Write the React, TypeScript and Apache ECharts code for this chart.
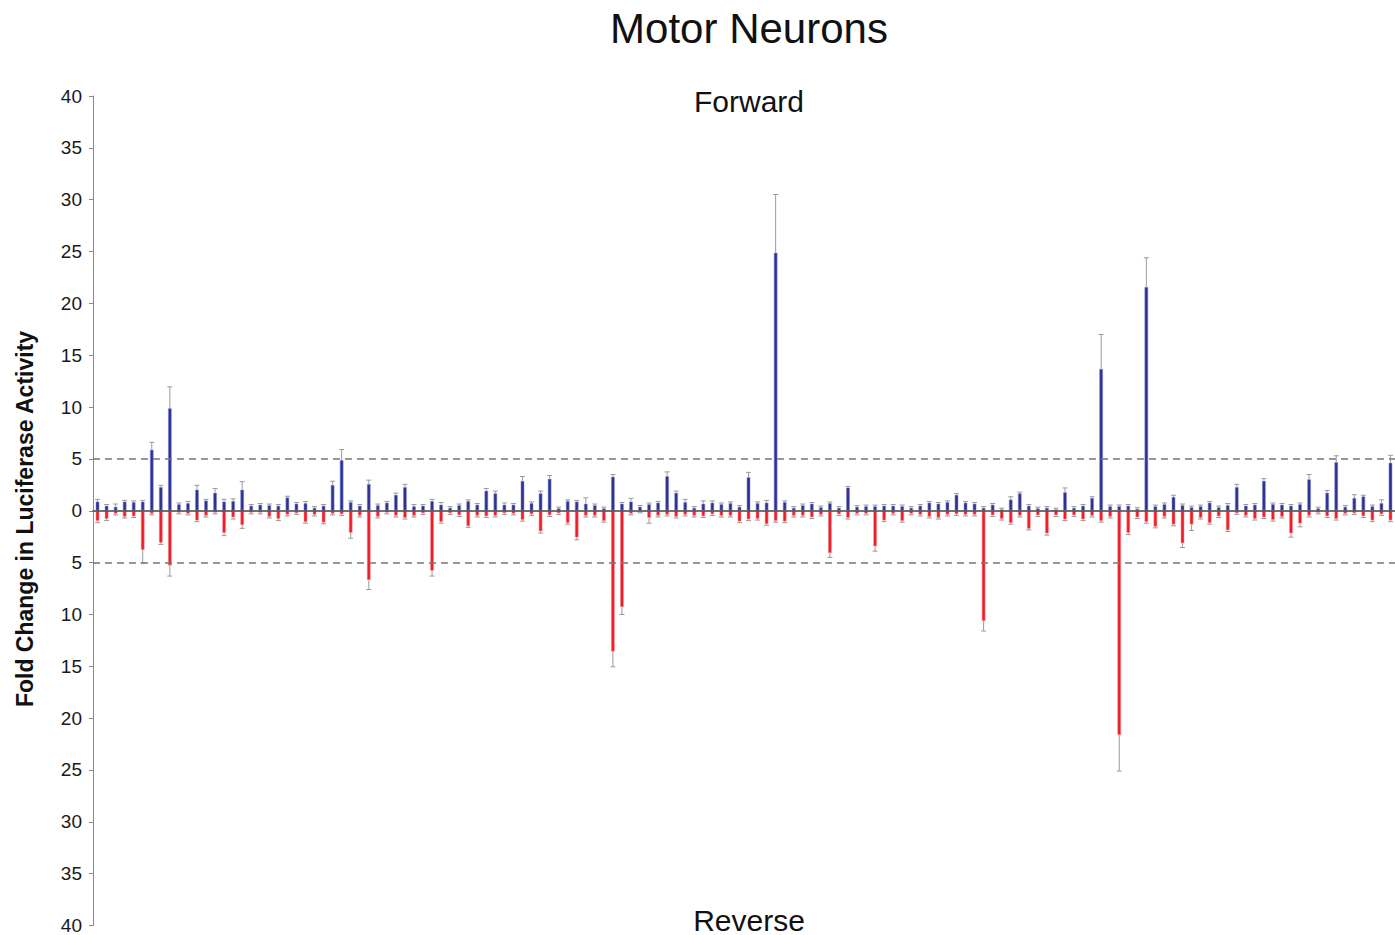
import React, { useEffect, useRef } from "react";
import * as echarts from "echarts";

// Forward (positive) fold change per construct
const fwd = [
  0.9, 0.5, 0.4, 0.9, 0.85, 0.9, 5.9, 2.3, 9.9, 0.65,
  0.75, 2.05, 1.0, 1.75, 0.9, 0.95, 2.05, 0.5, 0.6, 0.55,
  0.5, 1.3, 0.7, 0.75, 0.3, 0.5, 2.5, 4.9, 0.85, 0.5,
  2.6, 0.55, 0.8, 1.55, 2.3, 0.45, 0.5, 0.95, 0.6, 0.3,
  0.55, 0.95, 0.6, 1.95, 1.7, 0.6, 0.6, 2.9, 0.75, 1.7,
  3.1, 0.25, 0.95, 0.9, 0.7, 0.55, 0.25, 3.3, 0.7, 0.9,
  0.4, 0.65, 0.8, 3.35, 1.75, 0.85, 0.3, 0.7, 0.8, 0.65,
  0.75, 0.4, 3.25, 0.75, 0.8, 24.9, 0.85, 0.3, 0.55, 0.7,
  0.35, 0.75, 0.3, 2.25, 0.4, 0.45, 0.45, 0.5, 0.5, 0.45,
  0.3, 0.5, 0.8, 0.7, 0.85, 1.55, 0.8, 0.7, 0.3, 0.6,
  0.15, 1.1, 1.7, 0.5, 0.25, 0.3, 0.15, 1.8, 0.3, 0.5,
  1.25, 13.7, 0.45, 0.45, 0.5, 0.2, 21.6, 0.45, 0.65, 1.35,
  0.55, 0.35, 0.45, 0.8, 0.35, 0.55, 2.3, 0.5, 0.6, 2.9,
  0.65, 0.6, 0.5, 0.65, 3.05, 0.25, 1.75, 4.7, 0.4, 1.25,
  1.4, 0.45, 0.75, 4.65,
];

// Reverse fold change magnitudes (drawn downward)
const rev = [
  1.0, 0.8, 0.3, 0.6, 0.55, 3.8, 0.3, 3.1, 5.3, 0.2,
  0.3, 0.95, 0.5, 0.2, 2.15, 0.65, 1.4, 0.2, 0.2, 0.6,
  0.8, 0.4, 0.25, 1.1, 0.4, 1.15, 0.3, 0.35, 2.15, 0.5,
  6.7, 0.6, 0.2, 0.5, 0.7, 0.5, 0.25, 5.8, 1.1, 0.25,
  0.45, 1.5, 0.5, 0.55, 0.5, 0.25, 0.3, 0.9, 0.35, 2.0,
  0.45, 0.25, 1.2, 2.6, 0.5, 0.5, 1.0, 13.6, 9.3, 0.3,
  0.1, 0.7, 0.5, 0.4, 0.6, 0.4, 0.5, 0.55, 0.35, 0.5,
  0.5, 1.05, 0.85, 0.8, 1.3, 1.0, 1.05, 0.5, 0.5, 0.65,
  0.4, 4.1, 0.35, 0.7, 0.3, 0.3, 3.45, 0.95, 0.3, 1.0,
  0.3, 0.4, 0.6, 0.7, 0.4, 0.35, 0.4, 0.4, 10.65, 0.45,
  0.8, 1.2, 0.5, 1.75, 0.45, 2.2, 0.45, 0.85, 0.45, 0.85,
  0.5, 1.0, 0.6, 21.65, 2.15, 0.65, 1.1, 1.55, 0.6, 1.35,
  3.15, 1.35, 0.7, 1.2, 0.55, 1.9, 0.25, 0.5, 0.8, 0.65,
  0.9, 0.6, 2.2, 1.25, 0.5, 0.2, 0.55, 0.8, 0.3, 0.25,
  0.55, 0.95, 0.35, 0.95,
];

const fwdErr = [
  0.2, 0.1, 0.25, 0.1, 0.1, 0.1, 0.7, 0.15, 2.05, 0.1,
  0.15, 0.4, 0.1, 0.4, 0.2, 0.2, 0.75, 0.1, 0.1, 0.1,
  0.1, 0.1, 0.1, 0.15, 0.1, 0.1, 0.35, 1.0, 0.1, 0.1,
  0.35, 0.1, 0.1, 0.15, 0.25, 0.15, 0.1, 0.15, 0.2, 0.1,
  0.1, 0.1, 0.1, 0.2, 0.2, 0.15, 0.1, 0.4, 0.1, 0.2,
  0.3, 0.1, 0.1, 0.1, 0.55, 0.1, 0.1, 0.2, 0.1, 0.3,
  0.1, 0.1, 0.1, 0.4, 0.15, 0.25, 0.1, 0.25, 0.15, 0.1,
  0.1, 0.1, 0.45, 0.1, 0.2, 5.6, 0.1, 0.1, 0.1, 0.1,
  0.1, 0.1, 0.1, 0.1, 0.1, 0.1, 0.1, 0.1, 0.1, 0.1,
  0.1, 0.1, 0.1, 0.1, 0.1, 0.1, 0.1, 0.1, 0.1, 0.1,
  0.1, 0.25, 0.1, 0.1, 0.1, 0.1, 0.1, 0.4, 0.1, 0.1,
  0.1, 3.3, 0.1, 0.1, 0.1, 0.1, 2.8, 0.1, 0.1, 0.15,
  0.1, 0.1, 0.1, 0.1, 0.1, 0.15, 0.25, 0.1, 0.1, 0.2,
  0.1, 0.1, 0.1, 0.1, 0.45, 0.1, 0.2, 0.6, 0.1, 0.3,
  0.1, 0.1, 0.3, 0.7,
];

const revErr = [
  0.15, 0.15, 0.1, 0.1, 0.1, 1.25, 0.1, 0.15, 1.0, 0.1,
  0.1, 0.1, 0.1, 0.1, 0.25, 0.15, 0.3, 0.1, 0.1, 0.1,
  0.15, 0.1, 0.1, 0.1, 0.1, 0.1, 0.1, 0.1, 0.5, 0.1,
  0.9, 0.1, 0.1, 0.1, 0.1, 0.1, 0.1, 0.5, 0.1, 0.1,
  0.1, 0.1, 0.1, 0.1, 0.1, 0.1, 0.1, 0.1, 0.1, 0.15,
  0.1, 0.1, 0.1, 0.2, 0.1, 0.1, 0.1, 1.45, 0.7, 0.1,
  0.1, 0.5, 0.1, 0.1, 0.1, 0.1, 0.1, 0.1, 0.1, 0.1,
  0.1, 0.1, 0.1, 0.1, 0.1, 0.1, 0.1, 0.1, 0.1, 0.1,
  0.1, 0.4, 0.1, 0.1, 0.1, 0.1, 0.45, 0.1, 0.1, 0.1,
  0.1, 0.1, 0.1, 0.1, 0.1, 0.1, 0.1, 0.1, 0.95, 0.1,
  0.1, 0.1, 0.1, 0.1, 0.1, 0.15, 0.1, 0.1, 0.1, 0.1,
  0.1, 0.1, 0.1, 3.45, 0.15, 0.1, 0.1, 0.1, 0.1, 0.1,
  0.4, 0.55, 0.1, 0.1, 0.1, 0.1, 0.1, 0.1, 0.1, 0.1,
  0.1, 0.1, 0.35, 0.3, 0.1, 0.1, 0.1, 0.1, 0.1, 0.1,
  0.1, 0.1, 0.1, 0.1,
];

const categories = fwd.map((_, i) => String(i + 1));

const FONT = "'Liberation Sans', Arial, sans-serif";

export default function App() {
  const ref = useRef<HTMLDivElement>(null);

  useEffect(() => {
    document.body.style.margin = "0";
    if (!ref.current) return;
    const chart = echarts.init(ref.current, null, { renderer: "svg" });

    const errData = [
      ...fwd.map((v, i) => [i, v, fwdErr[i]]),
      ...rev.map((v, i) => [i, -v, -revErr[i]]),
    ];

    const renderErr = (params: any, api: any) => {
      const x = api.value(0);
      const v = api.value(1);
      const e = api.value(2);
      const p0 = api.coord([x, v]);
      const p1 = api.coord([x, v + e]);
      const style = { stroke: "#9a9a9a", lineWidth: 1 };
      return {
        type: "group",
        children: [
          { type: "line", shape: { x1: p0[0], y1: p0[1], x2: p1[0], y2: p1[1] }, style },
          { type: "line", shape: { x1: p1[0] - 2.5, y1: p1[1], x2: p1[0] + 2.5, y2: p1[1] }, style },
        ],
      };
    };

    chart.setOption({
      animation: false,
      backgroundColor: "#ffffff",
      grid: { left: 93, top: 96, width: 1302, height: 831 },
      xAxis: {
        type: "category",
        data: categories,
        z: 10,
        axisLine: { show: true, onZero: true, lineStyle: { color: "#444", width: 1.5 } },
        axisTick: { show: false },
        axisLabel: { show: false },
        splitLine: { show: false },
      },
      yAxis: {
        type: "value",
        min: -40,
        max: 40,
        interval: 5,
        axisLine: { show: true, lineStyle: { color: "#888", width: 1 } },
        axisTick: { show: true, length: 4, lineStyle: { color: "#888" } },
        splitLine: { show: false },
        axisLabel: {
          color: "#1a1a1a",
          fontSize: 19,
          fontFamily: FONT,
          margin: 11,
          formatter: (v: number) => String(Math.abs(v)),
        },
      },
      graphic: [
        {
          type: "text",
          x: 749,
          y: 28,
          style: { text: "Motor Neurons", fontSize: 42, fontFamily: FONT, fill: "#111", textAlign: "center", textVerticalAlign: "middle" },
        },
        {
          type: "text",
          x: 749,
          y: 101,
          style: { text: "Forward", fontSize: 30, fontFamily: FONT, fill: "#111", textAlign: "center", textVerticalAlign: "middle" },
        },
        {
          type: "text",
          x: 749,
          y: 920,
          style: { text: "Reverse", fontSize: 30, fontFamily: FONT, fill: "#111", textAlign: "center", textVerticalAlign: "middle" },
        },
        {
          type: "text",
          x: 25,
          y: 519,
          rotation: Math.PI / 2,
          style: { text: "Fold Change in Luciferase Activity", fontSize: 23, fontWeight: "bold", fontFamily: FONT, fill: "#111", textAlign: "center", textVerticalAlign: "middle" },
        },
      ],
      series: [
        {
          name: "Forward",
          type: "bar",
          data: fwd,
          barWidth: 4,
          barGap: "-100%",
          itemStyle: { color: "#2e3192", borderColor: "rgba(130,140,210,0.55)", borderWidth: 1 },
          markLine: {
            silent: true,
            symbol: "none",
            label: { show: false },
            lineStyle: { color: "#777", width: 1.5, type: [7, 5] },
            data: [{ yAxis: 5 }, { yAxis: -5 }],
          },
        },
        {
          name: "Reverse",
          type: "bar",
          data: rev.map((v) => -v),
          barWidth: 4,
          barGap: "-100%",
          itemStyle: { color: "#ee1c25", borderColor: "rgba(245,140,150,0.55)", borderWidth: 1 },
        },
        {
          name: "Error",
          type: "custom",
          renderItem: renderErr,
          data: errData,
          encode: { x: 0, y: 1 },
          z: 3,
        },
      ],
    });

    return () => chart.dispose();
  }, []);

  return <div ref={ref} style={{ width: 1395, height: 935 }} />;
}
